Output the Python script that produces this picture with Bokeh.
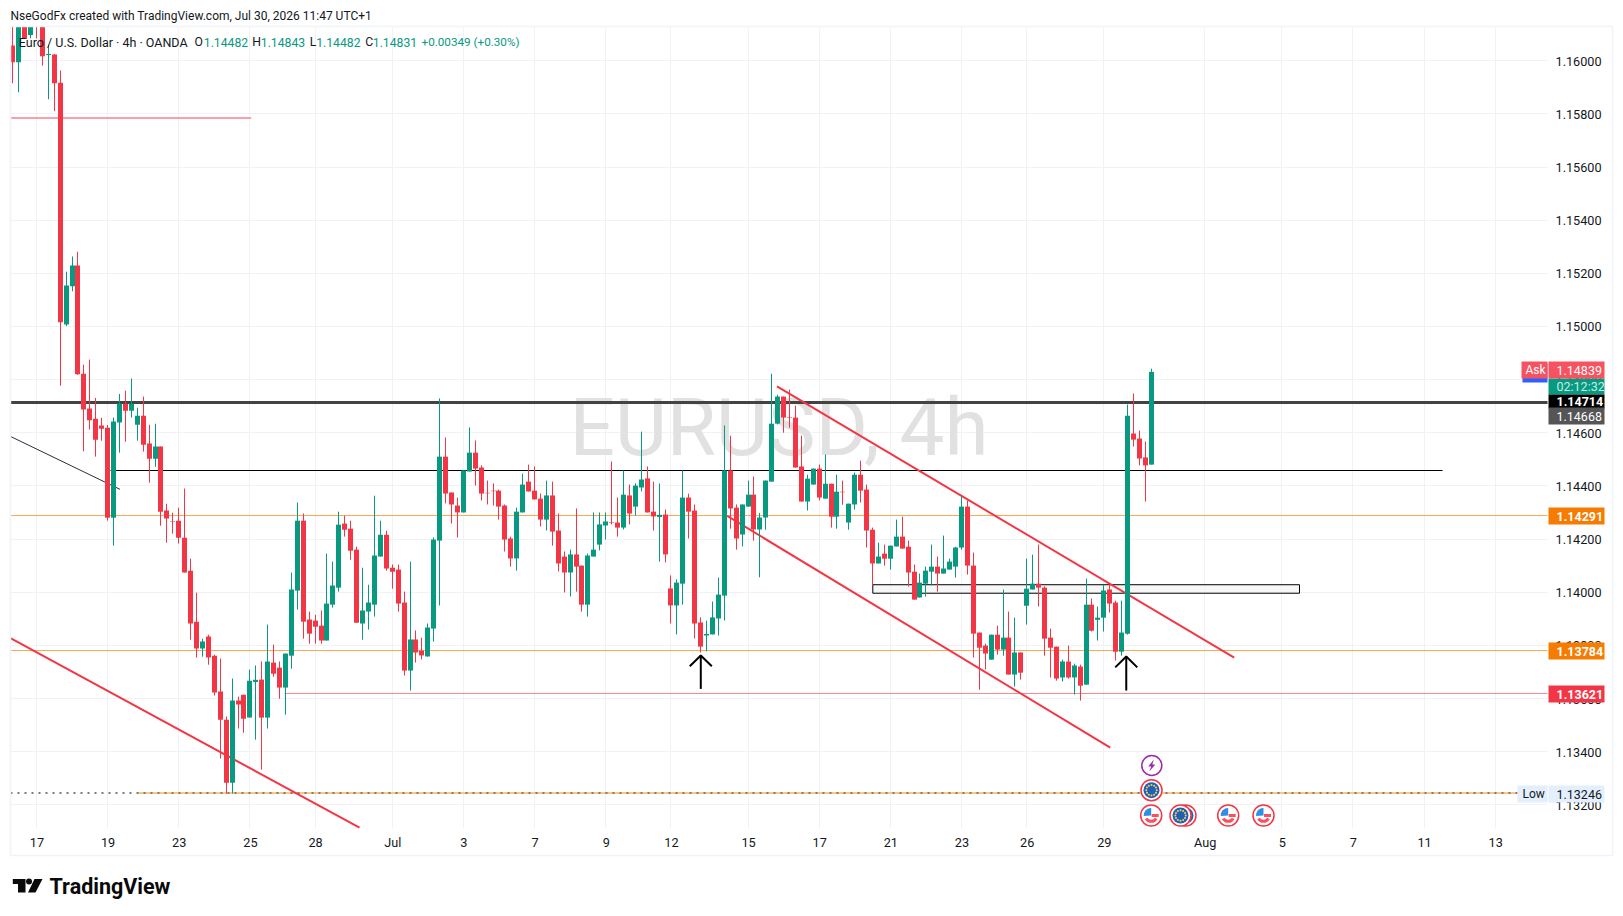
from bokeh.plotting import figure
from bokeh.models import Range1d, FixedTicker, NumeralTickFormatter, LinearAxis
from bokeh.core.properties import value
from bokeh.embed import file_html
from bokeh.resources import INLINE
import numpy as np

# candle values in 1e-5 price points
OPEN = [116059,115996,116150,116099,116170,116170,116023,116025,115919,115009,115153,115231,114824,114693,114655,114629,114621,114282,114640,114711,114685,114632,114666,114561,114504,114550,114309,114270,114271,114207,114083,113891,113790,113835,113763,113628,113522,113285,113594,113616,113530,113664,113673,113530,113737,113718,113643,113763,114008,114271,113899,113895,113876,113820,113955,114019,114260,114241,114162,113884,113929,113955,114136,114218,114094,114087,
113963,113707,113824,113782,113760,113865,114196,114512,114377,114328,114302,114456,114527,114471,114376,114384,114384,114328,114204,114129,114302,114418,114384,114354,114275,114366,114234,114136,114076,114144,114102,113955,114136,114181,114253,114266,114264,114245,114366,114324,114396,114430,114305,114285,114294,114016,113952,114034,114358,114309,113888,113839,113843,113903,113989,114460,114320,114219,114324,114369,114238,114283,114418,114636,114738,114660,114659,114475,114343,114407,114467,114354,114410,114286,114380,114264,114332,114444,114388,114237,114110,114147,114128,114174,114211,114173,114079,113982,114034,114079,114098,114072,114087,114098,114170,114324,114102,113850,113801,113748,113842,113786,113831,113692,113775,113951,114012,114034,114019,113831,113797,113681,113741,113681,113722,113654,113955,113898,113906,114012,113963,113778,113846,114599,114580,114509,114482]
CLOSE = [115996,116153,116084,116153,116135,116019,116027,115917,115018,115156,115231,114822,114689,114649,114576,114617,114282,114644,114711,114685,114711,114666,114557,114504,114550,114305,114279,114268,114207,114076,113884,113790,113816,113756,113624,113522,113285,113594,113579,113526,113669,113672,113530,113741,113695,113643,113771,114012,114271,113891,113846,113872,113820,113959,114027,114256,114237,114158,113887,113933,113963,114140,114218,114091,114079,113959,
113707,113824,113775,113764,113869,114200,114512,114373,114332,114302,114460,114527,114467,114373,114374,114382,114324,114200,114129,114305,114407,114381,114351,114275,114366,114230,114110,114076,114144,114098,113955,114140,114162,114257,114268,114264,114245,114369,114298,114403,114426,114302,114287,114293,114144,113952,114038,114358,114305,113884,113797,113845,113907,113993,114460,114317,114204,114332,114369,114238,114283,114422,114636,114738,114659,114658,114471,114343,114429,114467,114358,114410,114286,114380,114378,114335,114444,114384,114234,114110,114136,114128,114177,114211,114166,114076,113974,114038,114083,114098,114072,114091,114117,114170,114324,114102,113846,113793,113771,113842,113786,113831,113692,113775,113699,114015,114034,114019,113827,113793,113677,113741,113681,113726,113650,113955,113857,113906,114008,113959,113778,113850,114666,114576,114505,114479,114831]
HIGH = [116140,116180,116170,116170,116190,116190,116061,116027,115965,115208,115265,115283,114858,114877,114733,114658,114631,114659,114748,114760,114806,114696,114738,114632,114636,114550,114335,114301,114320,114392,114128,114000,113827,113842,113767,113752,113534,113677,113609,113616,113711,113726,113741,113880,113805,113741,113771,114076,114339,114298,113929,113917,113933,114147,114117,114305,114290,114271,114173,114094,114030,114365,114271,114233,114106,114106,
114004,114117,113858,113831,113884,114208,114731,114584,114377,114358,114460,114622,114573,114479,114422,114411,114388,114332,114211,114320,114448,114482,114475,114373,114422,114418,114298,114155,114162,114317,114102,114147,114302,114302,114302,114494,114358,114460,114407,114412,114606,114475,114418,114411,114313,114065,114050,114460,114373,114332,113907,113895,113967,114057,114629,114591,114332,114332,114422,114437,114300,114422,114824,114745,114738,114764,114704,114591,114444,114467,114482,114520,114410,114444,114422,114335,114452,114497,114407,114245,114188,114181,114177,114275,114286,114196,114106,114072,114098,114181,114136,114215,114128,114173,114362,114347,114151,113850,113808,113842,113876,114012,113929,113906,113775,114128,114143,114181,114024,113865,113797,113748,113801,113733,113729,114053,113978,113948,114030,114030,113970,113970,114708,114750,114610,114569,114843]
LOW = [115917,115883,116084,116086,116086,115983,115857,115812,114779,115003,115134,114820,114532,114614,114512,114572,114271,114177,114527,114568,114659,114572,114531,114414,114474,114252,114188,114222,114185,114076,113823,113756,113759,113729,113613,113376,113244,113244,113489,113473,113530,113447,113334,113489,113684,113601,113541,113714,113936,113827,113808,113808,113808,113820,113944,114004,114211,114124,113887,113823,113861,113910,114136,114083,114015,113929,
113688,113632,113737,113749,113760,113816,113952,114336,114260,114208,114302,114456,114403,114347,114332,114328,114275,114155,114098,114083,114302,114381,114351,114249,114234,114177,114080,114001,113986,114004,113929,113910,114136,114159,114200,114257,114211,114238,114257,114290,114381,114302,114234,114117,114114,113884,113843,113955,114204,113828,113775,113779,113843,113839,113895,114241,114162,114174,114324,114196,114058,114237,114418,114633,114602,114621,114471,114343,114309,114407,114347,114354,114245,114241,114331,114237,114313,114339,114170,114027,114110,114102,114087,114174,114166,114023,113974,113982,113985,114027,114004,114072,114087,114057,114162,114068,113756,113635,113711,113748,113767,113763,113692,113647,113673,113880,114012,113948,113763,113681,113669,113666,113677,113617,113594,113654,113854,113820,113854,113925,113745,113763,113842,114550,114479,114343,114482]

TICK_POS = [4,16,28,40,51,64,76,88,100,111,124,136,148,160,171,184,201,214,226,238,250]
TICK_LABELS = ["17","19","23","25","28","Jul","3","7","9","12","15","17","21","23","26","29","Aug","5","7","11","13"]
PRICE_TICKS = [1.132,1.134,1.136,1.138,1.140,1.142,1.144,1.146,1.148,1.150,1.152,1.154,1.156,1.158,1.160]

LEVEL_DARK = 1.147157
LEVEL_BLACK = 1.144598
LEVEL_ORANGE_A = 1.142905
LEVEL_ORANGE_B = 1.137825
LEVEL_PINK = 1.136207
LEVEL_TOP_PINK = 1.15786
LEVEL_LOW = 1.13246
ZONE_TOP, ZONE_BOTTOM = 1.14030, 1.13998

TREND_A_X, TREND_A_Y = [-0.455, 58.4], [1.13829, 1.13116]
TREND_B_X, TREND_B_Y = [-0.455, 18.0], [1.14588, 1.14389]
TREND_C_X, TREND_C_Y = [128.8, 205.9], [1.14776, 1.13756]
TREND_D_X, TREND_D_Y = [120.4, 185.0], [1.14289, 1.13417]
ARROW_X = [115.95, 187.7]
ARROW_TIP = [1.13764, 1.13760]
ARROW_WING = [1.13723, 1.13719]
ARROW_TAIL = [1.13638, 1.13632]

# page pixel <-> data helpers
X0, DX = 12.7, 5.93
PX_PER_UNIT = 26575.0
def ix(px): return (np.asarray(px, dtype=float) - X0) / DX
def py(y): return 1.16 - (np.asarray(y, dtype=float) - 60.7) / PX_PER_UNIT
def sx_snap(i): return ix(np.floor(X0 + DX*np.asarray(i, dtype=float)))
def sy_snap(v):
    ypx = 60.7 + (1.16 - np.asarray(v, dtype=float)) * PX_PER_UNIT
    return py(np.floor(ypx))

FW, FH = 1620, 910
p = figure(width=FW, height=FH, output_backend="svg", toolbar_location=None,
           x_range=Range1d(float(ix(0)), float(ix(FW))), y_range=Range1d(float(py(FH)), float(py(0))),
           x_axis_type=None, y_axis_type=None, min_border=0)
p.outline_line_color = None
p.background_fill_color = "white"
p.grid.visible = False

FONT = "Roboto"
TXT = "#131722"
FX1, FX2, FY1, FY2 = 10, 1547, 27, 828   # chart pane in page pixels
xmin, xmax = float(ix(FX1)), float(ix(FX2))

xa = LinearAxis(ticker=FixedTicker(ticks=TICK_POS),
                major_label_overrides={t: l for t, l in zip(TICK_POS, TICK_LABELS)},
                fixed_location=float(py(FY2)))
ya = LinearAxis(ticker=FixedTicker(ticks=PRICE_TICKS), formatter=NumeralTickFormatter(format="0.00000"),
                fixed_location=xmax)
for ax in (xa, ya):
    ax.axis_line_color = None
    ax.major_tick_line_color = None
    ax.minor_tick_line_color = None
    ax.major_label_text_color = TXT
    ax.major_label_text_font = FONT
    ax.major_label_text_font_size = "12.7px"
    ax.level = "underlay"
xa.major_label_standoff = 0
ya.major_label_standoff = 2
p.add_layout(xa, "below")
p.add_layout(ya, "right")

# grid
GRID = "#f0f2f5"
p.segment(sx_snap(TICK_POS), float(py(FY1)), sx_snap(TICK_POS), float(py(FY2)), line_color=GRID, line_width=1)
p.segment(xmin, sy_snap(PRICE_TICKS), xmax, sy_snap(PRICE_TICKS), line_color=GRID, line_width=1)

# watermark
p.text([float(ix(778.5))], [float(py(427))], text=["EURUSD, 4h"], text_font=value(FONT), text_font_size="80px",
       text_color="#e1e1e1", text_align="center", text_baseline="middle")

# level lines
p.line([xmin, xmax], [LEVEL_DARK]*2, line_color="#434343", line_width=3)
p.line([ix(110), ix(1442)], [LEVEL_BLACK]*2, line_color="#000000", line_width=1)
p.line([xmin, xmax], [LEVEL_ORANGE_A]*2, line_color="#f9a857", line_width=1)
p.line([xmin, xmax], [LEVEL_ORANGE_B]*2, line_color="#f9a857", line_width=1)
p.line([ix(284), xmax], [LEVEL_PINK]*2, line_color="#f28b93", line_width=1)
p.line([xmin, ix(250.7)], [LEVEL_TOP_PINK]*2, line_color="#f7a1aa", line_width=2)
p.line([ix(137), ix(1517)], [LEVEL_LOW]*2, line_color="#ffc77a", line_width=2)
p.line([xmin, ix(1517)], [LEVEL_LOW]*2, line_color="#787b86", line_width=2, line_dash="2 5")
# zone
p.quad(left=[ix(872.3)], right=[ix(1299)], top=[ZONE_TOP], bottom=[ZONE_BOTTOM],
       fill_color="#f2f2f2", fill_alpha=0.6, line_color="#000000", line_width=1)
# trend lines
p.line(TREND_A_X, TREND_A_Y, line_color="#f23645", line_width=2)
p.line(TREND_B_X, TREND_B_Y, line_color="#2a2e39", line_width=1)
p.line(TREND_C_X, TREND_C_Y, line_color="#f23645", line_width=2)
p.line(TREND_D_X, TREND_D_Y, line_color="#f23645", line_width=2)

# candles
o = np.array(OPEN)/1e5; c = np.array(CLOSE)/1e5; h = np.array(HIGH)/1e5; l = np.array(LOW)/1e5
idx = np.arange(len(o))
up = c >= o
colors = np.where(up, "#089981", "#f23645").tolist()
cx = sx_snap(idx)
p.segment(cx, h, cx, l, line_color=colors, line_width=1)
p.vbar(cx, width=5/DX, top=np.maximum(o, c), bottom=np.minimum(o, c), fill_color=colors, line_color=None)

# mask above the pane, and pane border
p.quad(left=[float(ix(0))], right=[float(ix(FW))], top=[float(py(0))], bottom=[float(py(26))], fill_color="white", line_color=None)
p.quad(left=[float(ix(10))], right=[float(ix(1612))], top=[float(py(26))], bottom=[float(py(855))],
       fill_alpha=0, line_color="#f0f3fa", line_width=1.5)

# arrows
for ax_, tip, wing, tail in zip(ARROW_X, ARROW_TIP, ARROW_WING, ARROW_TAIL):
    p.line([ax_, ax_], [tip, tail], line_color="#000000", line_width=2)
    p.line([ax_-1.86, ax_, ax_+1.86], [wing, tip, wing], line_color="#000000", line_width=2)

# event icons
def icon_ring(x, y):
    p.scatter([x], [y], size=21, marker="circle", fill_color="white", line_color="#f23645", line_width=1.5)
def us_flag(px, ypx):
    x, y = float(ix(px)), float(py(ypx))
    icon_ring(x, y)
    p.wedge([x], [y], radius=7.5, radius_units="screen", start_angle=np.pi/2, end_angle=np.pi*1.02,
            fill_color="#2f8fe6", line_color=None)
    p.line([ix(px+0.5), ix(px+7.5)], [y, y], line_color="#f7525f", line_width=3)
    p.arc([x], [y], radius=5.8, radius_units="screen", start_angle=np.radians(-150), end_angle=np.radians(-30),
          line_color="#f7525f", line_width=3)
def eu_flag(px, ypx):
    x, y = float(ix(px)), float(py(ypx))
    icon_ring(x, y)
    p.scatter([x], [y], size=16, marker="circle", fill_color="#1f61b6", line_color=None)
    a = np.radians(np.arange(0, 360, 30))
    p.scatter(ix(px + 5.2*np.cos(a)), py(ypx + 5.2*np.sin(a)), size=2, marker="circle",
              fill_color="#ffd34d", line_color=None)

lx, ly = 1151.3, 765
p.scatter([float(ix(lx))], [float(py(ly))], size=20, marker="circle", fill_color="white", line_color="#9c27b0", line_width=1.5)
bolt_x = [2, -3.5, -0.5, -2.5, 3.5, 0.5]
bolt_y = [-6, 1, 1, 6, -1, -1]
p.patch(ix(lx + np.array(bolt_x)), py(ly + np.array(bolt_y)), fill_color="#9c27b0", line_color=None)
eu_flag(1151, 789.7)
us_flag(1150.7, 815)
eu_flag(1185, 815)
eu_flag(1180, 815)
us_flag(1227.7, 815)
us_flag(1263, 815)

# text helper
def lab(xpx, ypx, text, color=TXT, size="12.5px", style="normal"):
    p.text([float(ix(xpx))], [float(py(ypx))], text=[text], text_color=color, text_font=value(FONT),
           text_font_size=size, text_align="left", text_baseline="middle", text_font_style=style)

lab(10, 15, "NseGodFx created with TradingView.com, Jul 30, 2026 11:47 UTC+1", size="12px")
lab(18.3, 41.7, "Euro / U.S. Dollar · 4h · OANDA")
GREEN = "#089981"
for xp, t, col in [(194, "O", TXT), (203.3, "1.14482", GREEN), (251.7, "H", TXT), (260.3, "1.14843", GREEN),
                   (309.3, "L", TXT), (315.7, "1.14482", GREEN), (364.7, "C", TXT), (372.3, "1.14831", GREEN)]:
    lab(xp, 41.7, t, color=col, size="12.2px")
lab(421, 41.7, "+0.00349 (+0.30%)", color=GREEN, size="11.7px")

# price axis tags
def tag(x1, x2, y1, y2, fill):
    p.quad(left=[float(ix(x1))], right=[float(ix(x2))], top=[float(py(y1))], bottom=[float(py(y2))],
           fill_color=fill, line_color=None)
TX1, TX2, TT = 1548, 1604, 1556
tag(1522, 1547, 363, 382, "#2962ff")
tag(1521, 1547, 361, 378, "#f7525f")
tag(TX1, TX2, 378, 394, "#089981")
tag(TX1, TX2, 361, 378, "#f7525f")
tag(TX1, TX2, 394, 408, "#000000")
tag(TX1, TX2, 407, 424, "#555555")
tag(TX1, TX2, 507, 524, "#f57c00")
tag(TX1, TX2, 642, 659, "#f57c00")
tag(TX1, TX2, 685, 702, "#f23645")
tag(1517, 1547, 785, 802, "#e3effd")
tag(TX1, TX2, 785, 802, "#e3effd")

TAGSZ = "12.5px"
lab(1525, 369.5, "Ask", color="white", size="12px")
lab(TT, 369.5, "1.14839", color="white", size=TAGSZ)
lab(TT, 386, "02:12:32", color="#c8ece5", size=TAGSZ)
lab(TT, 401, "1.14714", color="white", size=TAGSZ, style="bold")
lab(TT, 415.5, "1.14668", color="white", size=TAGSZ)
lab(TT, 515.5, "1.14291", color="white", size=TAGSZ, style="bold")
lab(TT, 650.5, "1.13784", color="white", size=TAGSZ, style="bold")
lab(TT, 693.5, "1.13621", color="white", size=TAGSZ, style="bold")
lab(1522, 793.5, "Low", size="12px")
lab(TT, 793.5, "1.13246", size=TAGSZ)

# logo
LOGO = "#0a0a0a"
p.patch(ix([12.3, 25, 25, 17.5, 17.5, 12.3]), py([878.5, 878.5, 892, 892, 883.5, 883.5]), fill_color=LOGO, line_color=None)
p.scatter([float(ix(28.5))], [float(py(881))], size=6, marker="circle", fill_color=LOGO, line_color=None)
p.patch(ix([34, 42, 35, 27.5]), py([878.5, 878.5, 892, 892]), fill_color=LOGO, line_color=None)
lab(49, 886, "TradingView", color=LOGO, size="21.5px", style="bold")

open("out.html", "w").write(file_html(p, INLINE))
